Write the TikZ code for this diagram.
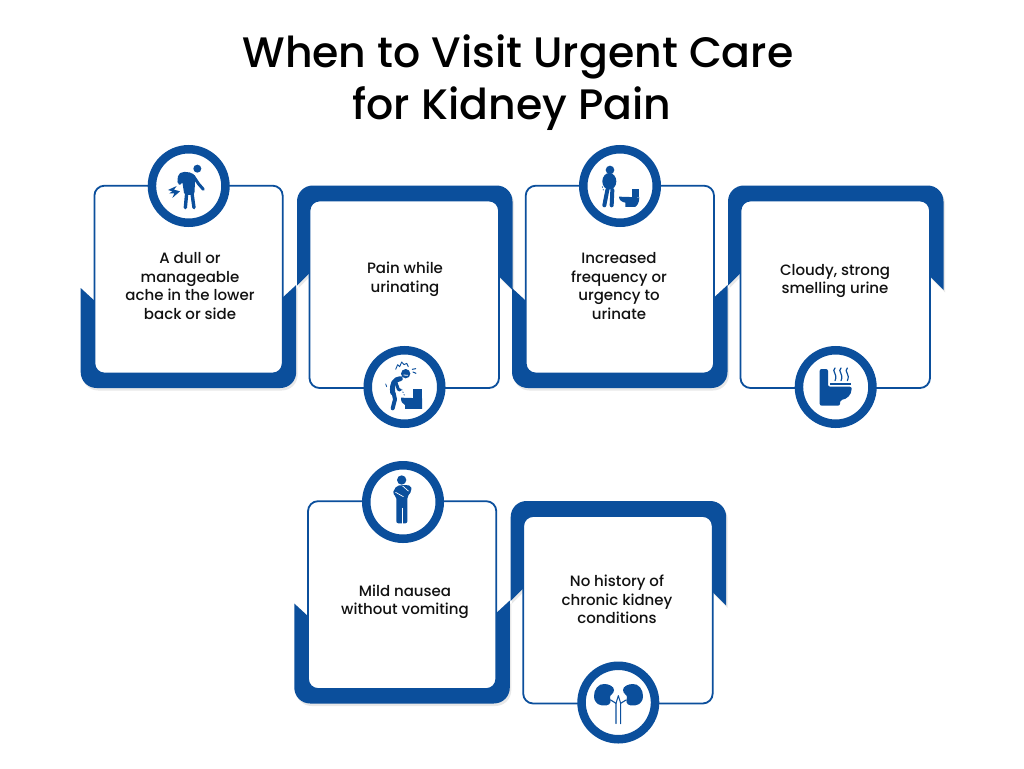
\documentclass[tikz,border=0pt]{standalone}
\usepackage{fontspec}
\setmainfont{Poppins Medium}
\usepackage{xcolor}
\usetikzlibrary{shadows}
\definecolor{careblue}{HTML}{0B4F9C}
\definecolor{careink}{HTML}{111111}
\tikzset{
softshade/.style={drop shadow={shadow xshift=1.5pt,shadow yshift=-2.5pt,opacity=.09,fill=black}},
bandfill/.style={fill=careblue,softshade},
cardbox/.style={draw=careblue,line width=1.8pt,fill=white,rounded corners=10pt},
ringnode/.style={circle,draw=careblue,line width=8.5pt,fill=white,minimum size=73.5pt,inner sep=0pt,softshade},
cardtext/.style={align=center,text=careink,font=\fontsize{15}{18.5}\selectfont},
titletext/.style={anchor=base,text=black,font=\fontsize{42.6}{52}\selectfont},
iconpart/.style={careblue,line cap=round,line join=round}
}
% card with the heavy band below
\newcommand{\lowcard}[2]{
\begin{scope}[shift={(#1,#2)}]
\path[bandfill] (0,103) -- (13,115) -- (202.5,112) -- (215.5,100) -- (215.5,187)
.. controls (215.5,196) and (208.5,203) .. (199.5,203) -- (16,203)
.. controls (7,203) and (0,196) .. (0,187) -- cycle;
\draw[cardbox] (13.7,0.7) rectangle (202,188.5);
\end{scope}}
% card with the heavy band above
\newcommand{\highcard}[2]{
\begin{scope}[shift={(#1,#2)}]
\path[bandfill] (0,100) -- (0,16) .. controls (0,7) and (7,0) .. (16,0) -- (199.5,0)
.. controls (208.5,0) and (215.5,7) .. (215.5,16) -- (215.5,104.5) -- (202,91) -- (12,88) -- cycle;
\draw[cardbox] (12.5,15) rectangle (202,202.5);
\end{scope}}
\begin{document}
\begin{tikzpicture}[x=1pt,y=-1pt]
\useasboundingbox[fill=white] (0,0) rectangle (1024,768);
\node[titletext] (titlea) at (518,67.5) {When to Visit Urgent Care};
\node[titletext] (titleb) at (512,119) {for Kidney Pain};
% cards
\foreach \xa/\ya in {80.7/185,512/185,294.3/500.5} {\lowcard{\xa}{\ya}}
\foreach \xb/\yb in {297/185.5,728/185.5,510.7/501} {\highcard{\xb}{\yb}}
% rings
\node[ringnode] (ringa) at (188.7,186) {};
\node[ringnode] (ringb) at (404.5,387) {};
\node[ringnode] (ringc) at (620,186) {};
\node[ringnode] (ringd) at (835.7,387) {};
\node[ringnode] (ringe) at (403,502) {};
\node[ringnode] (ringf) at (618.3,702.5) {};
% texts
\node[cardtext] (texta) at (190,286) {A dull or\\manageable\\ache in the lower\\back or side};
\node[cardtext] (textb) at (405,279.5) {Pain while\\urinating};
\node[cardtext] (textc) at (619,286) {Increased\\frequency or\\urgency to\\urinate};
\node[cardtext] (textd) at (835,281) {Cloudy, strong\\smelling urine};
\node[cardtext] (texte) at (405,602) {Mild nausea\\without vomiting};
\node[cardtext] (textf) at (617,599.5) {No history of\\chronic kidney\\conditions};
% icon: back pain
\begin{scope}[shift={(140,140)},x=0.3333pt,y=-0.3333pt,iconpart]
\fill (172,86) circle[radius=12];
\fill[rounded corners=2pt] (114,104) -- (128,95) -- (155,98) -- (166,108) -- (163,165) -- (133,165) -- (127,125) -- (122,136) -- (112,132) -- cycle;
\draw[line width=3pt] (160,108) -- (176,132) -- (190,148);
\draw[line width=3.4pt] (140,160) -- (136,203);
\draw[line width=3.4pt] (156,160) -- (162,203);
\fill (84,150) -- (110,138) -- (102,149) -- (120,154) -- (97,174) -- (103,160) -- (88,160) -- (97,154) -- cycle;
\end{scope}
% icon: pain at the toilet
\begin{scope}[shift={(355,340)},x=0.3333pt,y=-0.3333pt,iconpart]
\fill (152,101) circle[radius=14];
\draw[white,line width=0.8pt] (146,105) -- (158,106);
\draw[line width=0.9pt] (122,88) -- (128,74) -- (134,80) -- (140,66) -- (147,74) -- (155,70) -- (160,80);
\draw[line width=1pt] (172,88) -- (182,86) (174,96) -- (183,100);
\draw[line width=5pt] (136,116) .. controls (118,118) and (110,130) .. (113,158);
\draw[line width=3pt] (122,125) -- (130,148) -- (135,150);
\draw[line width=4pt] (116,160) -- (120,178) -- (113,205);
\draw[line width=0.8pt,dotted] (140,148) -- (150,170);
\draw[line width=0.8pt] (92,132) -- (95,140);
\fill (175,148) rectangle (201,178);
\fill (138,173) -- (201,175) -- (201,207) -- (150,207) -- (150,195) .. controls (142,192) and (138,185) .. (138,173) -- cycle;
\end{scope}
% icon: urgency
\begin{scope}[shift={(570,140)},x=0.3333pt,y=-0.3333pt,iconpart]
\fill (120,90) circle[radius=13];
\fill (118,124) ellipse[x radius=21,y radius=25];
\draw[line width=4pt] (112,150) -- (103,196);
\draw[line width=4pt] (127,150) -- (125,196);
\draw[line width=0.8pt,dotted] (97,140) -- (100,150);
\fill (186,147) rectangle (208,172);
\fill (147,170) -- (208,172) .. controls (208,190) and (200,198) .. (195,201) -- (166,201) -- (166,188) .. controls (155,186) and (147,180) .. (147,170) -- cycle;
\end{scope}
% icon: strong smell
\begin{scope}[shift={(785,340)},x=0.3333pt,y=-0.3333pt,iconpart]
\fill[rounded corners=2pt] (104,87) -- (129,87) -- (129,140) -- (200,140) .. controls (200,165) and (185,178) .. (165,180) -- (165,197) -- (104,197) -- cycle;
\fill (136,128) rectangle (198,134);
\foreach \xs in {150,168,187} {
\draw[line width=1.2pt] (\xs,84) .. controls (\xs-12,94) and (\xs+10,102) .. (\xs,122);
}
\end{scope}
% icon: nausea
\begin{scope}[shift={(355,455)},x=0.3333pt,y=-0.3333pt,iconpart]
\fill (140,75) circle[radius=14];
\fill[rounded corners=2pt] (112,115) -- (125,92) -- (150,90) -- (168,92) -- (170,108) -- (157,125) -- (157,205) -- (124,205) -- (124,125) -- cycle;
\draw[white,line width=0.7pt] (122,112) -- (145,125) (143,93) -- (160,108);
\draw[white,line width=0.7pt] (141,160) -- (141,210);
\end{scope}
% icon: kidneys
\begin{scope}[shift={(570,655)},x=0.3333pt,y=-0.3333pt,iconpart]
\fill (103,87) .. controls (85,85) and (71,105) .. (72,124) .. controls (73,147) and (90,154) .. (110,151)
.. controls (122,149) and (124,138) .. (120,128) .. controls (118,120) and (132,117) .. (132,105) .. controls (132,94) and (116,87) .. (103,87) -- cycle;
\fill (188,87) .. controls (206,85) and (220,105) .. (219,124) .. controls (218,147) and (201,154) .. (181,151)
.. controls (169,149) and (167,138) .. (171,128) .. controls (173,120) and (159,117) .. (159,105) .. controls (159,94) and (175,87) .. (188,87) -- cycle;
\draw[line width=1.1pt] (138,206) -- (138,145) -- (122,135);
\draw[line width=1.1pt] (152,206) -- (152,145) -- (168,135);
\draw[line width=1pt] (138,145) -- (145,122) -- (152,145);
\end{scope}
\end{tikzpicture}
\end{document}
